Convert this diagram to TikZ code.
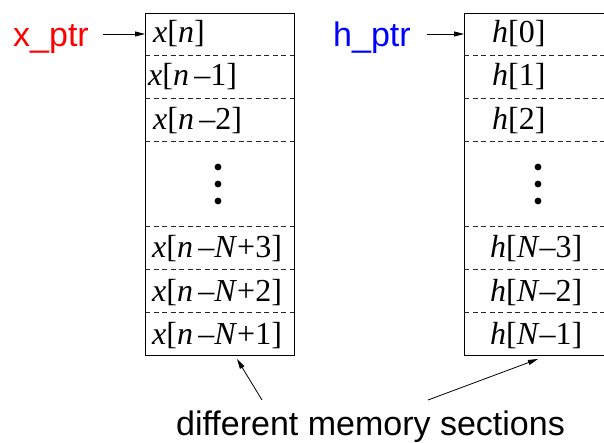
\documentclass[tikz,border=0pt]{standalone}
\usepackage{fontspec}
\setmainfont{Liberation Serif}
\newfontfamily\labelfont{Liberation Sans}
\usetikzlibrary{arrows.meta}
\tikzset{
  memory/.style={draw, line width=1.1pt, minimum width=149pt, minimum height=342pt,
                 inner sep=0pt, anchor=north west},
  divider/.style={dash pattern=on 5pt off 3.5pt, line width=0.8pt, black!85},
  entry/.style={anchor=base west, inner sep=0pt, font=\fontsize{32}{36}\selectfont},
  ptrlabel/.style={anchor=base west, inner sep=0pt, font=\labelfont\fontsize{34}{40}\selectfont},
  caption/.style={anchor=base, inner sep=0pt, font=\labelfont\fontsize{34}{40}\selectfont},
  ptr/.style={-{Triangle[length=10pt,width=5pt]}, line width=0.8pt},
  dotmark/.style={fill=black}
}
\newcommand\iv[1]{\textit{#1}}
\begin{document}
\begin{tikzpicture}[x=1pt,y=-1pt]
\useasboundingbox (0,0) rectangle (604,443);
\clip (0,0) rectangle (604,443);

% the two memory blocks
\node[memory] (xbox) at (145,13) {};
\node[memory] (hbox) at (464,13) {};

% dashed row separators
\foreach \y in {55.75,98.5,141.25,226.75,269.5,312.25}{
  \draw[divider] (145,\y) -- (294,\y);
  \draw[divider] (464,\y) -- (613,\y);
}

% signal samples
\node[entry] (x0) at (153,43)  {\iv{x}[\iv{n}]};
\node[entry] (x1) at (148,86)  {\iv{x}[\iv{n}\,–1]};
\node[entry] (x2) at (153,130) {\iv{x}[\iv{n}\,–2]};
\node[entry] (x3) at (152,258) {\iv{x}[\iv{n}\,–\iv{N}+3]};
\node[entry] (x4) at (152,301) {\iv{x}[\iv{n}\,–\iv{N}+2]};
\node[entry] (x5) at (152,344) {\iv{x}[\iv{n}\,–\iv{N}+1]};

% filter coefficients
\node[entry] (h0) at (492,43)  {\iv{h}[0]};
\node[entry] (h1) at (492,86)  {\iv{h}[1]};
\node[entry] (h2) at (492,130) {\iv{h}[2]};
\node[entry] (h3) at (490,258) {\iv{h}[\iv{N}–3]};
\node[entry] (h4) at (490,301) {\iv{h}[\iv{N}–2]};
\node[entry] (h5) at (490,344) {\iv{h}[\iv{N}–1]};

% vertical ellipses
\foreach \cx in {218,538}{
  \foreach \cy in {167,184,201}{
    \fill[dotmark] (\cx,\cy) circle (3.4pt);
  }
}

% pointers
\node[ptrlabel, text={rgb,255:red,255;green,0;blue,0}] (xptr) at (13,47) {x\_ptr};
\node[ptrlabel, text={rgb,255:red,0;green,0;blue,255}] (hptr) at (333,47) {h\_ptr};
\coordinate (xtail) at (103,34);
\coordinate (htail) at (427,34);
\draw[ptr] (xtail) -- (xtail -| xbox.west);
\draw[ptr] (htail) -- (htail -| hbox.west);

% caption with arrows to both blocks
\node[caption] (sections) at (370.5,435) {different memory sections};
\coordinate (ltail) at (262,400);
\coordinate (lhead) at (237,359);
\coordinate (rtail) at (428,400);
\coordinate (rhead) at (538,359);
\draw[ptr] (ltail) -- (lhead);
\draw[ptr] (rtail) -- (rhead);
\end{tikzpicture}
\end{document}
